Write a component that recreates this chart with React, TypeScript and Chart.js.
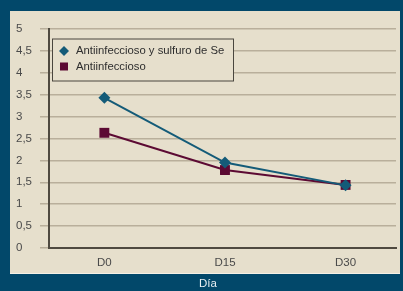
import { useEffect, useRef } from "react";
import { Chart, registerables } from "chart.js";
Chart.register(...registerables);

const categories = ["D0", "D15", "D30"];
const seriesNames = ["Antiinfeccioso y sulfuro de Se", "Antiinfeccioso"];
const combinedValues = [3.43, 1.95, 1.43];
const singleValues = [2.63, 1.78, 1.44];
const yMin = 0;
const yMax = 5;
const yStep = 0.5;
const xTitle = "Día";

const TEAL_BG = "#02486a";
const PANEL = "#e6dfcc";
const C1 = "#145b78";
const C2 = "#5c0a33";
const FONT = "'Liberation Sans', Arial, sans-serif";

const panelPlugin = {
  id: "panel",
  beforeDraw(chart: any) {
    const ctx = chart.ctx;
    ctx.save();
    ctx.fillStyle = TEAL_BG;
    ctx.fillRect(0, 0, chart.width, chart.height);
    ctx.fillStyle = PANEL;
    ctx.fillRect(10, 11, 390, 263);
    ctx.fillStyle = "#f4f0e6";
    ctx.fillRect(10, 273, 390, 1);
    ctx.restore();
  },
};

const legendPlugin = {
  id: "boxLegend",
  afterDraw(chart: any) {
    const ctx = chart.ctx;
    const ca = chart.chartArea;
    const x0 = ca.left + 3;
    const y0 = ca.top + 9.5;
    const w = 181;
    const h = 42;
    ctx.save();
    ctx.fillStyle = PANEL;
    ctx.fillRect(x0, y0, w, h);
    ctx.strokeStyle = "#4a463e";
    ctx.lineWidth = 1;
    ctx.strokeRect(x0 + 0.5, y0 + 0.5, w, h);
    ctx.font = `11.3px ${FONT}`;
    ctx.textBaseline = "middle";
    const mx = x0 + 12;
    const r1 = y0 + 12.5;
    const r2 = y0 + 28;
    ctx.fillStyle = C1;
    ctx.beginPath();
    ctx.moveTo(mx, r1 - 5);
    ctx.lineTo(mx + 5, r1);
    ctx.lineTo(mx, r1 + 5);
    ctx.lineTo(mx - 5, r1);
    ctx.closePath();
    ctx.fill();
    ctx.fillStyle = C2;
    ctx.fillRect(mx - 4, r2 - 4, 8, 8);
    ctx.fillStyle = "#2e2e2e";
    ctx.fillText(seriesNames[0], x0 + 24, r1);
    ctx.fillText(seriesNames[1], x0 + 24, r2);
    // axis title, centred under the whole figure
    ctx.font = `11.5px ${FONT}`;
    ctx.fillStyle = "#e6eef2";
    ctx.textAlign = "center";
    ctx.fillText(xTitle, 208, 284);
    ctx.restore();
  },
};

export default function App() {
  const ref = useRef<HTMLCanvasElement>(null);
  useEffect(() => {
    if (!ref.current) return;
    const chart = new Chart(ref.current, {
      type: "line",
      data: {
        datasets: [
          {
            label: seriesNames[0],
            data: combinedValues.map((v, i) => ({ x: i, y: v })),
            borderColor: C1,
            backgroundColor: C1,
            borderWidth: 2,
            pointStyle: "rectRot",
            pointRadius: 6,
            pointBorderWidth: 0,
          },
          {
            label: seriesNames[1],
            data: singleValues.map((v, i) => ({ x: i, y: v })),
            borderColor: C2,
            backgroundColor: C2,
            borderWidth: 2,
            pointStyle: "rect",
            pointRadius: 7,
            pointBorderWidth: 0,
          },
        ],
      },
      options: {
        responsive: false,
        animation: false,
        layout: { padding: { left: 16, right: 3, top: 29, bottom: 0 } },
        plugins: { legend: { display: false }, tooltip: { enabled: false } },
        scales: {
          x: {
            type: "linear",
            min: -0.459,
            max: 2.418,
            afterBuildTicks: (scale: any) => {
              scale.ticks = categories.map((_, i) => ({ value: i }));
            },
            afterFit: (scale: any) => {
              scale.height = 43;
            },
            grid: { display: false, drawTicks: false },
            border: { display: true, color: "#4f4a40", width: 2 },
            ticks: {
              callback: (v: any) => categories[v] ?? "",
              color: "#4a4a4a",
              font: { family: FONT, size: 11.5 },
              padding: 8,
              maxRotation: 0,
            },
          },
          y: {
            min: yMin,
            max: yMax,
            afterFit: (scale: any) => {
              scale.width = 33;
            },
            ticks: {
              stepSize: yStep,
              callback: (v: any) => String(v).replace(".", ","),
              color: "#4a4a4a",
              font: { family: FONT, size: 11.5 },
              crossAlign: "far",
              padding: 4,
            },
            grid: {
              color: "rgba(140,128,105,0.5)",
              lineWidth: 1.5,
              tickLength: 9,
            },
            border: { display: true, color: "#4f4a40", width: 2 },
          },
        },
      },
      plugins: [panelPlugin, legendPlugin],
    });
    return () => chart.destroy();
  }, []);
  return (
    <div
      style={{
        position: "fixed",
        left: 0,
        top: 0,
        width: 403,
        height: 291,
        background: TEAL_BG,
      }}
    >
      <canvas ref={ref} width={403} height={291} style={{ display: "block" }} />
    </div>
  );
}
